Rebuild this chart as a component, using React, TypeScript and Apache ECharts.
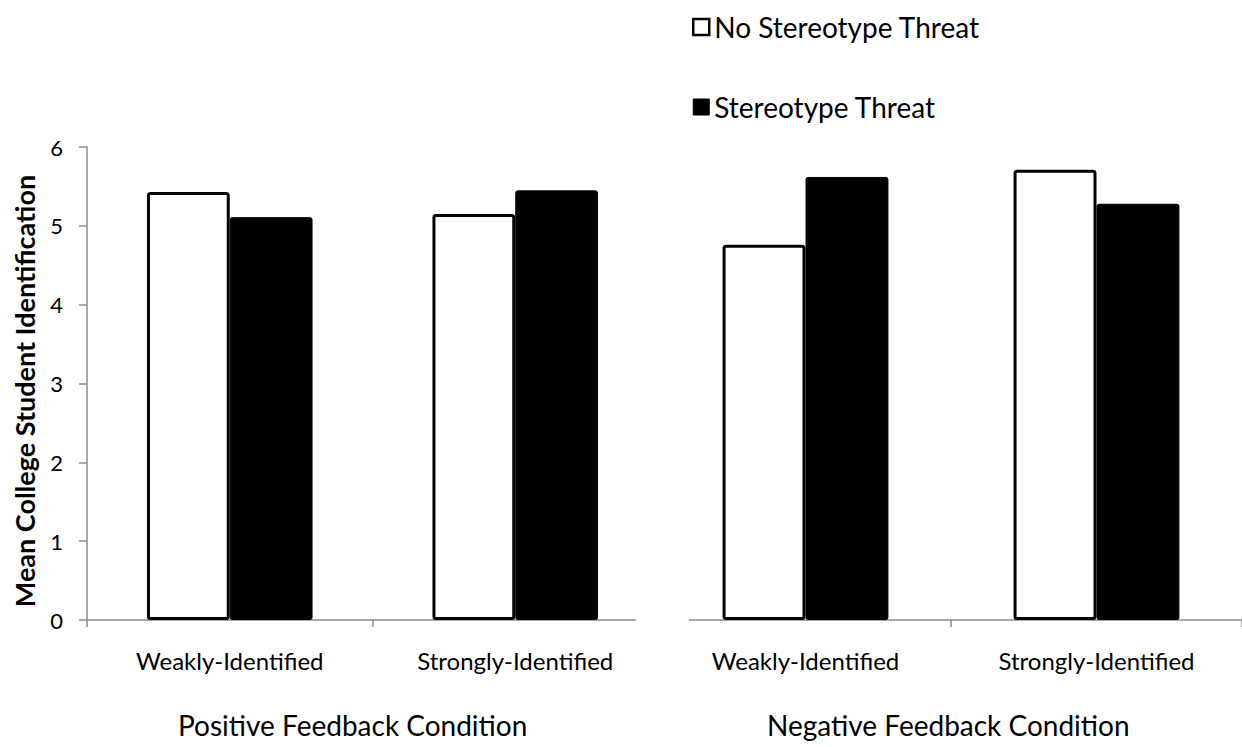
import React, { useEffect, useRef } from "react";
import * as echarts from "echarts";

const categories = ["Weakly-Identified", "Strongly-Identified"];
const positiveNoThreat = [5.43, 5.15];
const positiveThreat = [5.11, 5.45];
const negativeNoThreat = [4.76, 5.71];
const negativeThreat = [5.62, 5.28];
const seriesNames = ["No Stereotype Threat", "Stereotype Threat"];
const panelTitles = ["Positive Feedback Condition", "Negative Feedback Condition"];
const yAxisTitle = "Mean College Student Identification";

const FONT = "Lato, 'Open Sans', sans-serif";

export default function App() {
  const ref = useRef<HTMLDivElement>(null);
  useEffect(() => {
    if (!ref.current) return;
    const chart = echarts.init(ref.current, null, { renderer: "svg" });
    const whiteStyle = { color: "#ffffff", borderColor: "#000000", borderWidth: 3, borderRadius: 2 };
    const blackStyle = { color: "#000000", borderColor: "#000000", borderWidth: 1, borderRadius: 2 };
    const xAxisCommon = {
      type: "category" as const,
      data: categories,
      axisLine: { show: true, lineStyle: { color: "#8c8c8c", width: 1.5 } },
      axisTick: { show: true, length: 7, lineStyle: { color: "#8c8c8c", width: 1.5 } },
      axisLabel: { color: "#000", fontSize: 24, fontFamily: FONT, margin: 28 },
    };
    chart.setOption({
      animation: false,
      textStyle: { fontFamily: FONT },
      legend: {
        orient: "vertical",
        left: 687,
        top: 8,
        itemGap: 52,
        icon: "rect",
        itemWidth: 16,
        itemHeight: 16,
        data: [
          { name: seriesNames[0], itemStyle: { color: "#ffffff", borderColor: "#000000", borderWidth: 2.5 } },
          { name: seriesNames[1], itemStyle: { color: "#000000", borderColor: "#000000", borderWidth: 1 } },
        ],
        textStyle: { color: "#000", fontSize: 28, fontFamily: FONT },
      },
      grid: [
        { left: 87, top: 147, width: 571, height: 473 },
        { left: 660, top: 147, width: 587, height: 473 },
      ],
      xAxis: [
        { ...xAxisCommon, gridIndex: 0 },
        { ...xAxisCommon, gridIndex: 1 },
      ],
      yAxis: [
        {
          type: "value",
          gridIndex: 0,
          min: 0,
          max: 6,
          interval: 1,
          axisLine: { show: true, lineStyle: { color: "#8c8c8c", width: 1.5 } },
          axisTick: { show: true, length: 8, lineStyle: { color: "#8c8c8c", width: 1.5 } },
          axisLabel: { color: "#000", fontSize: 22, fontFamily: FONT, margin: 24 },
          splitLine: { show: false },
        },
        {
          type: "value",
          gridIndex: 1,
          min: 0,
          max: 6,
          interval: 1,
          show: false,
          splitLine: { show: false },
        },
      ],
      series: [
        { name: seriesNames[0], type: "bar", xAxisIndex: 0, yAxisIndex: 0, data: positiveNoThreat, barGap: "0%", barCategoryGap: "42%", itemStyle: whiteStyle },
        { name: seriesNames[1], type: "bar", xAxisIndex: 0, yAxisIndex: 0, data: positiveThreat, barGap: "0%", barCategoryGap: "42%", itemStyle: blackStyle },
        { name: seriesNames[0], type: "bar", xAxisIndex: 1, yAxisIndex: 1, data: negativeNoThreat, barGap: "0%", barCategoryGap: "43%", itemStyle: whiteStyle },
        { name: seriesNames[1], type: "bar", xAxisIndex: 1, yAxisIndex: 1, data: negativeThreat, barGap: "0%", barCategoryGap: "43%", itemStyle: blackStyle },
      ],
      graphic: [
        { type: "rect", z: 100, shape: { x: 636, y: 616, width: 53, height: 16 }, style: { fill: "#ffffff" } },
        { type: "text", x: 24, y: 391, rotation: Math.PI / 2, style: { text: yAxisTitle, fontSize: 27, fontWeight: "bold", fill: "#000", fontFamily: FONT, align: "center", verticalAlign: "middle" } },
        { type: "text", x: 178, y: 725, style: { text: panelTitles[0], fontSize: 28, fill: "#000", fontFamily: FONT, align: "left", verticalAlign: "middle" } },
        { type: "text", x: 767, y: 725, style: { text: panelTitles[1], fontSize: 28, fill: "#000", fontFamily: FONT, align: "left", verticalAlign: "middle" } },
      ],
    });
    return () => chart.dispose();
  }, []);
  return <div ref={ref} style={{ position: "fixed", left: 0, top: 0, width: 1242, height: 747, background: "#fff" }} />;
}
